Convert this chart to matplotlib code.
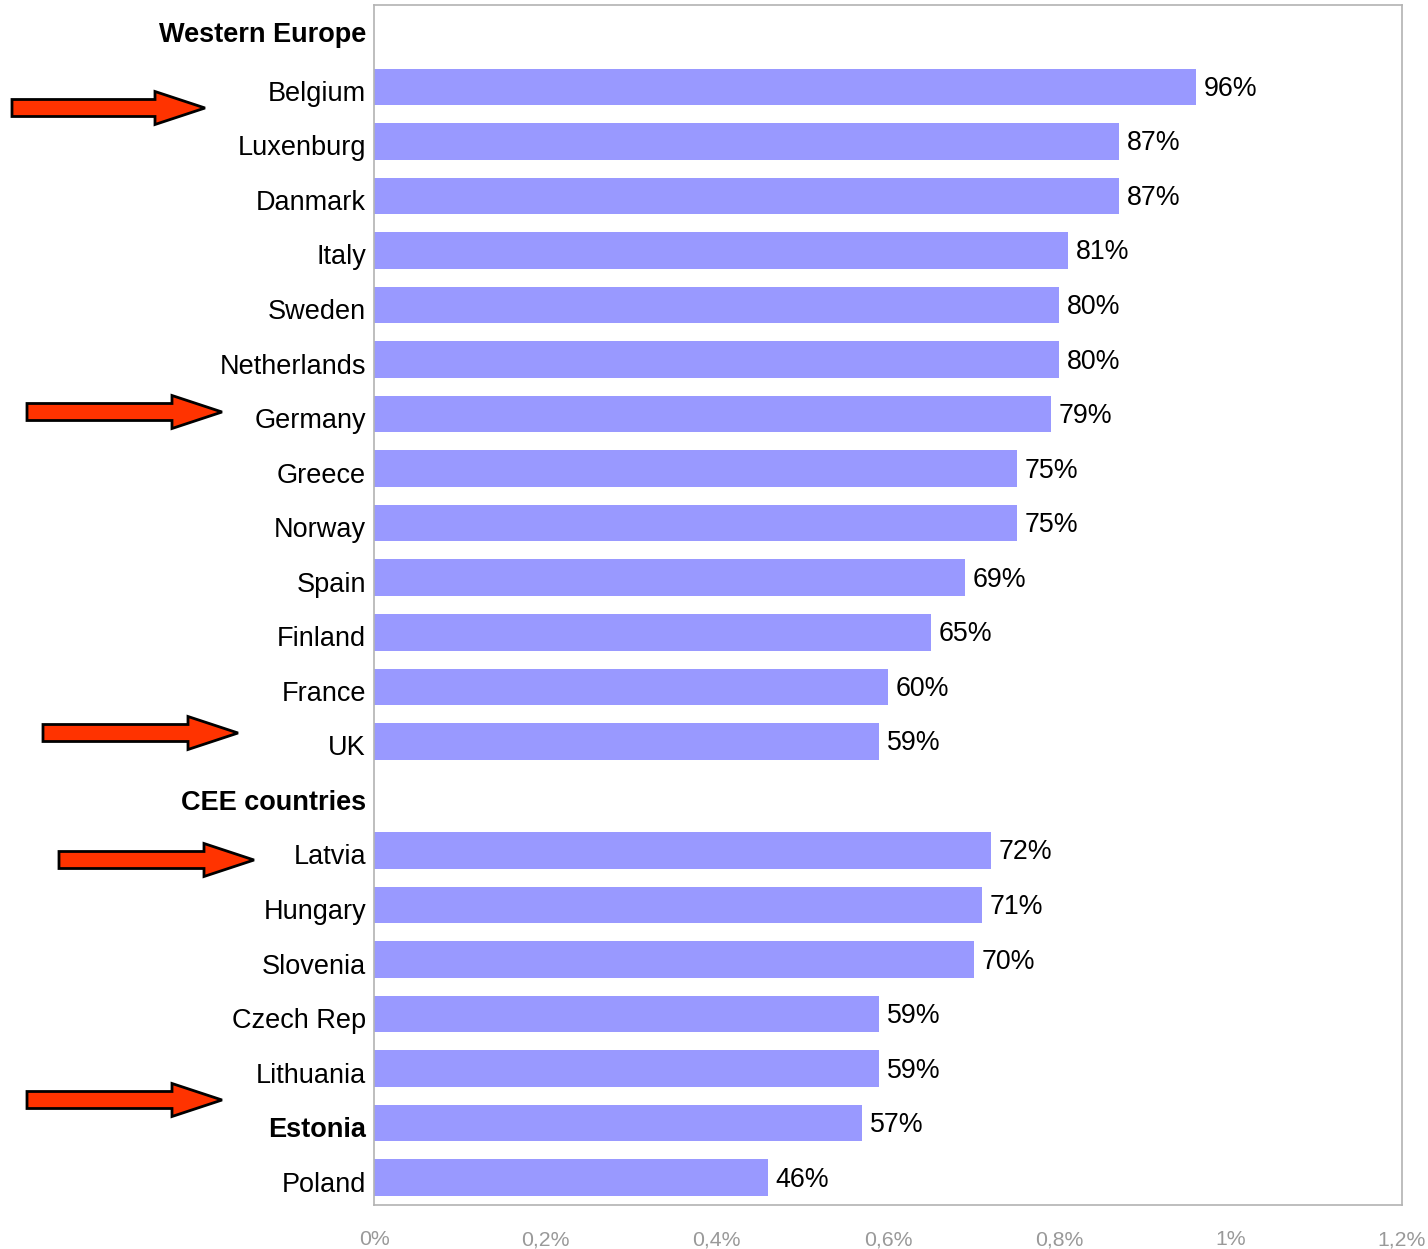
import matplotlib
matplotlib.use("Agg")
import matplotlib.pyplot as plt
from matplotlib.patches import Polygon
from matplotlib.transforms import ScaledTranslation

plt.rcParams['font.family'] = ['Liberation Sans', 'DejaVu Sans']

categories = ["Western Europe", "Belgium", "Luxenburg", "Danmark", "Italy", "Sweden",
              "Netherlands", "Germany", "Greece", "Norway", "Spain", "Finland",
              "France", "UK", "CEE countries", "Latvia", "Hungary", "Slovenia",
              "Czech Rep", "Lithuania", "Estonia", "Poland"]
values = [None, 0.96, 0.87, 0.87, 0.81, 0.80, 0.80, 0.79, 0.75, 0.75, 0.69, 0.65,
          0.60, 0.59, None, 0.72, 0.71, 0.70, 0.59, 0.59, 0.57, 0.46]
value_labels = ["", "96%", "87%", "87%", "81%", "80%", "80%", "79%", "75%", "75%",
                "69%", "65%", "60%", "59%", "", "72%", "71%", "70%", "59%", "59%",
                "57%", "46%"]
bold_labels = ["Western Europe", "CEE countries", "Estonia"]
arrow_rows = ["Belgium", "Germany", "UK", "Latvia", "Estonia"]
xticks = [0, 0.2, 0.4, 0.6, 0.8, 1.0, 1.2]
xtick_labels = ["0%", "0,2%", "0,4%", "0,6%", "0,8%", "1%", "1,2%"]

W, H = 1428, 1249
fig = plt.figure(figsize=(W / 100, H / 100), dpi=100)
ax = fig.add_axes([374 / W, 1 - 1205 / H, (1402 - 374) / W, (1205 - 5) / H])

n = len(categories)
ypos = list(range(n))
val_shift = ScaledTranslation(0, -2 / 100, fig.dpi_scale_trans)
for y, v, lab in zip(ypos, values, value_labels):
    if v is None:
        continue
    ax.barh(y, v, height=0.67, color="#9999FF", edgecolor="none")
    ax.text(v + 0.009, y, lab, va="center", ha="left", fontsize=19.3, color="black",
            transform=ax.transData + val_shift)

ax.set_ylim(n - 0.5, -0.5)
ax.set_xlim(0, 1.2)
ax.set_yticks(ypos)
ax.set_yticklabels([])
for y, name in zip(ypos, categories):
    dy = 3 if y == 0 else 7
    tr = ax.get_yaxis_transform() + ScaledTranslation(-8 / 100, -dy / 100, fig.dpi_scale_trans)
    ax.text(0, y, name, ha="right", va="center", fontsize=19.5, color="black",
            fontweight="bold" if name in bold_labels else "normal",
            transform=tr, clip_on=False)
ax.set_xticks(xticks)
ax.set_xticklabels(xtick_labels, fontsize=15.3, color="#999999")
ax.tick_params(axis="both", length=0)
ax.tick_params(axis="x", pad=18)
for s in ax.spines.values():
    s.set_color("#b3b3b3")
    s.set_linewidth(1.2)

# arrows (figure pixel layout), tail x, tip x, center y
arrow_specs = {"Belgium": (12, 205, 108), "Germany": (27, 222, 412),
               "UK": (43, 238, 733), "Latvia": (59, 254, 860),
               "Estonia": (27, 222, 1100)}
for name in arrow_rows:
    x0, x1, yc = arrow_specs[name]
    hl, sh, hh = 50, 8.5, 16.5
    pts = [(x0, yc - sh), (x1 - hl, yc - sh), (x1 - hl, yc - hh), (x1, yc),
           (x1 - hl, yc + hh), (x1 - hl, yc + sh), (x0, yc + sh)]
    pts = [(px / W, 1 - py / H) for px, py in pts]
    fig.patches.append(Polygon(pts, closed=True, transform=fig.transFigure,
                               facecolor="#FF3300", edgecolor="black", linewidth=2))

fig.savefig("out.png", dpi=100, facecolor="white")
